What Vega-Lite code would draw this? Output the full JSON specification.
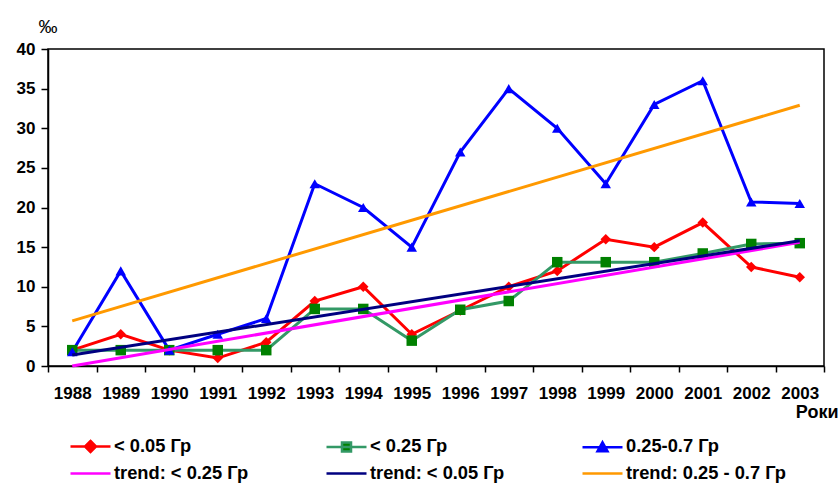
{
  "$schema": "https://vega.github.io/schema/vega-lite/v6.json",
  "autosize": "none",
  "width": 776,
  "height": 317,
  "padding": {"left": 48, "top": 49, "right": 14, "bottom": 119},
  "background": "white",
  "config": {
    "font": "Liberation Sans",
    "view": {"stroke": "black", "strokeWidth": 1.5, "fill": "white"}
  },
  "datasets": {
    "obs": [
      {"year": 1988, "v": 2, "s": "< 0.05 Гр"},
      {"year": 1989, "v": 4, "s": "< 0.05 Гр"},
      {"year": 1990, "v": 2, "s": "< 0.05 Гр"},
      {"year": 1991, "v": 1, "s": "< 0.05 Гр"},
      {"year": 1992, "v": 3, "s": "< 0.05 Гр"},
      {"year": 1993, "v": 8.2, "s": "< 0.05 Гр"},
      {"year": 1994, "v": 10, "s": "< 0.05 Гр"},
      {"year": 1995, "v": 4, "s": "< 0.05 Гр"},
      {"year": 1996, "v": 7, "s": "< 0.05 Гр"},
      {"year": 1997, "v": 10, "s": "< 0.05 Гр"},
      {"year": 1998, "v": 12, "s": "< 0.05 Гр"},
      {"year": 1999, "v": 16, "s": "< 0.05 Гр"},
      {"year": 2000, "v": 15, "s": "< 0.05 Гр"},
      {"year": 2001, "v": 18.1, "s": "< 0.05 Гр"},
      {"year": 2002, "v": 12.5, "s": "< 0.05 Гр"},
      {"year": 2003, "v": 11.2, "s": "< 0.05 Гр"},
      {"year": 1988, "v": 2, "s": "< 0.25 Гр"},
      {"year": 1989, "v": 2, "s": "< 0.25 Гр"},
      {"year": 1990, "v": 2, "s": "< 0.25 Гр"},
      {"year": 1991, "v": 2, "s": "< 0.25 Гр"},
      {"year": 1992, "v": 2, "s": "< 0.25 Гр"},
      {"year": 1993, "v": 7.2, "s": "< 0.25 Гр"},
      {"year": 1994, "v": 7.2, "s": "< 0.25 Гр"},
      {"year": 1995, "v": 3.2, "s": "< 0.25 Гр"},
      {"year": 1996, "v": 7.1, "s": "< 0.25 Гр"},
      {"year": 1997, "v": 8.2, "s": "< 0.25 Гр"},
      {"year": 1998, "v": 13.1, "s": "< 0.25 Гр"},
      {"year": 1999, "v": 13.1, "s": "< 0.25 Гр"},
      {"year": 2000, "v": 13.1, "s": "< 0.25 Гр"},
      {"year": 2001, "v": 14.2, "s": "< 0.25 Гр"},
      {"year": 2002, "v": 15.4, "s": "< 0.25 Гр"},
      {"year": 2003, "v": 15.5, "s": "< 0.25 Гр"},
      {"year": 1988, "v": 1.8, "s": "0.25-0.7 Гр"},
      {"year": 1989, "v": 12, "s": "0.25-0.7 Гр"},
      {"year": 1990, "v": 2, "s": "0.25-0.7 Гр"},
      {"year": 1991, "v": 4, "s": "0.25-0.7 Гр"},
      {"year": 1992, "v": 6, "s": "0.25-0.7 Гр"},
      {"year": 1993, "v": 23, "s": "0.25-0.7 Гр"},
      {"year": 1994, "v": 20, "s": "0.25-0.7 Гр"},
      {"year": 1995, "v": 15, "s": "0.25-0.7 Гр"},
      {"year": 1996, "v": 27, "s": "0.25-0.7 Гр"},
      {"year": 1997, "v": 35, "s": "0.25-0.7 Гр"},
      {"year": 1998, "v": 30, "s": "0.25-0.7 Гр"},
      {"year": 1999, "v": 23, "s": "0.25-0.7 Гр"},
      {"year": 2000, "v": 33, "s": "0.25-0.7 Гр"},
      {"year": 2001, "v": 36, "s": "0.25-0.7 Гр"},
      {"year": 2002, "v": 20.7, "s": "0.25-0.7 Гр"},
      {"year": 2003, "v": 20.5, "s": "0.25-0.7 Гр"}
    ],
    "trend": [
      {"year": 1988, "v": 0, "s": "trend: < 0.25 Гр"},
      {"year": 2003, "v": 15.6, "s": "trend: < 0.25 Гр"},
      {"year": 1988, "v": 1.4, "s": "trend: < 0.05 Гр"},
      {"year": 2003, "v": 15.8, "s": "trend: < 0.05 Гр"},
      {"year": 1988, "v": 5.7, "s": "trend: 0.25 - 0.7 Гр"},
      {"year": 2003, "v": 32.9, "s": "trend: 0.25 - 0.7 Гр"}
    ]
  },
  "encoding": {
    "x": {
      "field": "year",
      "type": "ordinal",
      "scale": {"type": "band", "paddingInner": 0, "paddingOuter": 0, "domain": [1988,1989,1990,1991,1992,1993,1994,1995,1996,1997,1998,1999,2000,2001,2002,2003]},
      "axis": {
        "title": "Роки",
        "titleFontSize": 18,
        "titleFontWeight": "bold",
        "titleAlign": "right",
        "titleBaseline": "alphabetic",
        "titleX": 790,
        "titleY": 51,
        "labelAngle": 0,
        "labelFontSize": 17,
        "labelFontWeight": "bold",
        "labelColor": "black",
        "labelBaseline": "top",
        "labelPadding": 13,
        "tickBand": "extent",
        "tickSize": 6,
        "tickColor": "black",
        "tickWidth": 1.5,
        "domainColor": "black",
        "domainWidth": 1.5,
        "grid": false
      }
    },
    "y": {
      "field": "v",
      "type": "quantitative",
      "scale": {"domain": [0, 40], "nice": false},
      "axis": {
        "values": [0, 5, 10, 15, 20, 25, 30, 35, 40],
        "title": "‰",
        "titleAngle": 0,
        "titleFontSize": 19,
        "titleFontWeight": "normal",
        "titleAlign": "left",
        "titleBaseline": "alphabetic",
        "titleX": -10,
        "titleY": -17,
        "labelFontSize": 17,
        "labelFontWeight": "bold",
        "labelColor": "black",
        "labelPadding": 6,
        "tickSize": 7,
        "tickColor": "black",
        "tickWidth": 1.5,
        "domainColor": "black",
        "domainWidth": 1.5,
        "grid": false
      }
    }
  },
  "layer": [
    {
      "data": {"name": "obs"},
      "mark": {"type": "line", "strokeWidth": 3},
      "encoding": {
        "color": {
          "field": "s",
          "type": "nominal",
          "scale": {
            "domain": ["< 0.05 Гр", "< 0.25 Гр", "0.25-0.7 Гр", "trend: < 0.25 Гр", "trend: < 0.05 Гр", "trend: 0.25 - 0.7 Гр"],
            "range": ["#ff0000", "#339966", "#0000ff", "#ff00ff", "#000080", "#ff9900"]
          },
          "legend": {
            "title": null,
            "orient": "none",
            "legendX": 31,
            "legendY": 386,
            "direction": "horizontal",
            "columns": 3,
            "columnPadding": 72,
            "rowPadding": 5,
            "labelFontSize": 18.3,
            "labelFontWeight": "bold",
            "labelColor": "black",
            "labelOffset": 12,
            "labelLimit": 400,
            "symbolSize": 400,
            "symbolStrokeWidth": 2.5,
            "encode": {
              "symbols": {
                "update": {
                  "shape": {"signal": "datum.value == '< 0.05 Гр' ? 'M-2,0H2M0,-0.55L0.55,0L0,0.55L-0.55,0Z' : datum.value == '< 0.25 Гр' ? 'M-2,0H2M-0.45,-0.45H0.45V0.45H-0.45Z' : datum.value == '0.25-0.7 Гр' ? 'M-2,0H2M0,-0.5L0.5,0.4H-0.5Z' : 'M-2,0H2'"},
                  "fill": {"signal": "datum.value == '< 0.05 Гр' ? '#ff0000' : datum.value == '< 0.25 Гр' ? '#008000' : datum.value == '0.25-0.7 Гр' ? '#0000ff' : 'transparent'"},
                  "stroke": {"signal": "scale('color', datum.value)"},
                  "strokeWidth": {"value": 2.5},
                  "size": {"value": 400},
                  "opacity": {"value": 1}
                }
              }
            }
          }
        }
      }
    },
    {
      "data": {"name": "obs"},
      "mark": {"type": "point", "filled": true, "opacity": 1, "size": 110},
      "encoding": {
        "fill": {
          "field": "s",
          "type": "nominal",
          "scale": {"domain": ["< 0.05 Гр", "< 0.25 Гр", "0.25-0.7 Гр"], "range": ["#ff0000", "#008000", "#0000ff"]},
          "legend": null
        },
        "shape": {
          "field": "s",
          "type": "nominal",
          "scale": {"domain": ["< 0.05 Гр", "< 0.25 Гр", "0.25-0.7 Гр"], "range": ["diamond", "square", "triangle-up"]},
          "legend": null
        }
      }
    },
    {
      "data": {"name": "trend"},
      "mark": {"type": "line", "strokeWidth": 3},
      "encoding": {
        "color": {"field": "s", "type": "nominal"}
      }
    }
  ]
}
